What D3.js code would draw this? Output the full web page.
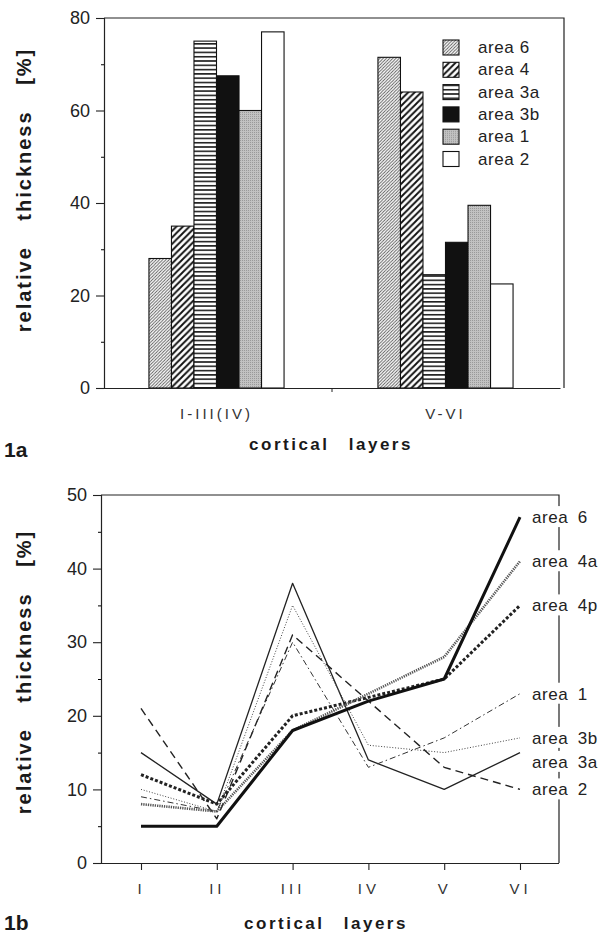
<!DOCTYPE html>
<html>
<head>
<meta charset="utf-8">
<script src="https://cdn.jsdelivr.net/npm/d3@7"></script>
<style>
  body { margin: 0; background: #fff; }
  svg { font-family: "Liberation Sans", Arial, Helvetica, sans-serif; }
</style>
</head>
<body>
<svg id="fig" width="603" height="933"></svg>
<script>
// ---- data: fig 1a (bars) ----
const groups = ["I-III(IV)", "V-VI"];
const barAreas = ["area 6", "area 4", "area 3a", "area 3b", "area 1", "area 2"];
const supra = [28, 35, 75, 67.5, 60, 77];      // layers I-III(IV)
const infra = [71.5, 64, 24.5, 31.5, 39.5, 22.5]; // layers V-VI
const barTicks = [0, 20, 40, 60, 80];

// ---- data: fig 1b (lines) ----
const layers = ["I", "II", "III", "IV", "V", "VI"];
const lineAreas = ["area 6", "area 4a", "area 4p", "area 1", "area 3b", "area 3a", "area 2"];
const area6 = [5, 5, 18, 22, 25, 47];
const area4a = [8, 7, 18, 23, 28, 41];
const area4p = [12, 8, 20, 22.5, 25, 35];
const area1 = [9, 7, 30, 13, 17, 23];
const area3b = [10, 7, 35, 16, 15, 17];
const area3a = [15, 8, 38, 14, 10, 15];
const area2 = [21, 6, 31, 22, 13, 10];
const lineTicks = [0, 10, 20, 30, 40, 50];

const svg = d3.select("#fig");
const defs = svg.append("defs");

// fill patterns for the bars
function diag(id, w, sw, col) {
  const p = defs.append("pattern").attr("id", id)
    .attr("patternUnits", "userSpaceOnUse").attr("width", w).attr("height", w);
  p.append("rect").attr("width", w).attr("height", w).attr("fill", "#fff");
  p.append("path")
    .attr("d", `M0,${w} L${w},0 M${-w / 2},${w / 2} L${w / 2},${-w / 2} M${w / 2},${w * 1.5} L${w * 1.5},${w / 2}`)
    .attr("stroke", col).attr("stroke-width", sw);
}
diag("p6", 3.2, 0.9, "#555");
diag("p4", 6.5, 1.9, "#111");
const ph = defs.append("pattern").attr("id", "p3a")
  .attr("patternUnits", "userSpaceOnUse").attr("width", 8).attr("height", 4.3);
ph.append("rect").attr("width", 8).attr("height", 4.3).attr("fill", "#fff");
ph.append("line").attr("x1", 0).attr("x2", 8).attr("y1", 0.8).attr("y2", 0.8)
  .attr("stroke", "#111").attr("stroke-width", 1.5);
const pd = defs.append("pattern").attr("id", "p1")
  .attr("patternUnits", "userSpaceOnUse").attr("width", 2).attr("height", 2);
pd.append("rect").attr("width", 2).attr("height", 2).attr("fill", "#c2c2c2");
pd.append("rect").attr("width", 1).attr("height", 1).attr("fill", "#9a9a9a");

const fills = ["url(#p6)", "url(#p4)", "url(#p3a)", "#111", "url(#p1)", "#fff"];

// ============ 1a ============
const a = { left: 104, right: 564, top: 18, bottom: 388 };

const x0 = d3.scaleBand().domain(groups).range([102, 560])
  .paddingInner(0.41).paddingOuter(0.205);
const x1 = d3.scaleBand().domain(barAreas).range([0, x0.bandwidth()]);
const yA = d3.scaleLinear().domain([0, 80]).range([a.bottom, a.top]);

const gA = svg.append("g");

// frame
gA.append("path")
  .attr("d", `M${a.left},${a.top} H${a.right} V${a.bottom}`)
  .attr("fill", "none").attr("stroke", "#222").attr("stroke-width", 1.2);

const barData = [];
groups.forEach((g, gi) => {
  const vals = gi === 0 ? supra : infra;
  barAreas.forEach((ar, i) => barData.push({ g, ar, v: vals[i], i }));
});

gA.selectAll("rect.bar")
  .data(barData)
  .join("rect")
  .attr("class", "bar")
  .attr("x", d => x0(d.g) + x1(d.ar))
  .attr("y", d => yA(d.v))
  .attr("width", x1.bandwidth())
  .attr("height", d => yA(0) - yA(d.v))
  .attr("fill", d => fills[d.i])
  .attr("stroke", "#111")
  .attr("stroke-width", 1.1);

// y axis
const yAxisA = gA.append("g")
  .attr("transform", `translate(${a.left},0)`)
  .call(d3.axisLeft(yA).tickValues(barTicks).tickSize(8).tickPadding(6));
gA.append("g")
  .attr("transform", `translate(${a.left},0)`)
  .call(d3.axisLeft(yA).tickValues([10, 30, 50, 70]).tickSize(3).tickFormat(""))
  .select(".domain").remove();

// x axis
const xAxisA = gA.append("g")
  .attr("transform", `translate(0,${a.bottom})`)
  .call(d3.axisBottom(x0).tickSize(0).tickPadding(20));
gA.append("line")
  .attr("x1", x0("V-VI") - x0.step() * x0.paddingInner() / 2 + 1)
  .attr("x2", x0("V-VI") - x0.step() * x0.paddingInner() / 2 + 1)
  .attr("y1", a.bottom).attr("y2", a.bottom + 4)
  .attr("stroke", "#222");

[yAxisA, xAxisA].forEach(ax => {
  ax.select(".domain").attr("stroke", "#222").attr("stroke-width", 1.2);
  ax.selectAll(".tick line").attr("stroke", "#222").attr("stroke-width", 1.1);
});
yAxisA.selectAll("text").attr("font-size", 18).attr("fill", "#222")
  .attr("font-family", "Liberation Sans, Arial, sans-serif");
xAxisA.selectAll("text").attr("font-size", 15).attr("fill", "#333")
  .attr("letter-spacing", 3)
  .attr("font-family", "Liberation Sans, Arial, sans-serif");

// legend
const leg = gA.append("g").attr("transform", "translate(443,40)");
const legRow = leg.selectAll("g").data(barAreas).join("g")
  .attr("transform", (d, i) => `translate(0,${i * 22.3})`);
legRow.append("rect")
  .attr("width", 16).attr("height", 15)
  .attr("fill", (d, i) => fills[i])
  .attr("stroke", "#111").attr("stroke-width", 1.1);
legRow.append("text")
  .attr("x", 35).attr("y", 13)
  .attr("font-size", 17).attr("letter-spacing", 0.6).attr("fill", "#222")
  .text(d => d);

// titles
gA.append("text")
  .attr("transform", "translate(24,190) rotate(-90)")
  .attr("dy", "0.35em")
  .attr("text-anchor", "middle")
  .attr("font-size", 20).attr("font-weight", "bold").attr("fill", "#1a1a1a")
  .attr("letter-spacing", 2).attr("word-spacing", 18)
  .text("relative thickness [%]");
gA.append("text")
  .attr("x", 331).attr("y", 450).attr("text-anchor", "middle")
  .attr("font-size", 17).attr("font-weight", "bold").attr("fill", "#1a1a1a")
  .attr("letter-spacing", 2.5).attr("word-spacing", 12)
  .text("cortical layers");
gA.append("text")
  .attr("x", 4).attr("y", 457)
  .attr("font-size", 21).attr("font-weight", "bold").attr("fill", "#1a1a1a")
  .text("1a");

// ============ 1b ============
const b = { left: 101, right: 559, top: 495, bottom: 863 };
const xB = d3.scalePoint().domain(layers).range([141, 520]);
const yB = d3.scaleLinear().domain([0, 50]).range([b.bottom, b.top]);

const gB = svg.append("g");

const series = [
  { name: "area 6", vals: area6, w: 3, dash: null, col: "#111" },
  { name: "area 4a", vals: area4a, w: 2.6, dash: "1.3,1", col: "#555" },
  { name: "area 4p", vals: area4p, w: 3, dash: "3,2", col: "#222" },
  { name: "area 1", vals: area1, w: 1, dash: "6,3,1.5,3", col: "#333" },
  { name: "area 3b", vals: area3b, w: 1, dash: "1,1.8", col: "#444" },
  { name: "area 3a", vals: area3a, w: 1.3, dash: null, col: "#222" },
  { name: "area 2", vals: area2, w: 1.4, dash: "8,5", col: "#222" }
];

// frame
gB.append("path")
  .attr("d", `M${b.left},${b.top} H${b.right} V${b.bottom}`)
  .attr("fill", "none").attr("stroke", "#222").attr("stroke-width", 1.2);

const line = d3.line()
  .x((d, i) => xB(layers[i]))
  .y(d => yB(d));

gB.selectAll("path.series")
  .data(series.slice().reverse())
  .join("path")
  .attr("class", "series")
  .attr("d", d => line(d.vals))
  .attr("fill", "none")
  .attr("stroke", d => d.col)
  .attr("stroke-width", d => d.w)
  .attr("stroke-dasharray", d => d.dash)
  .attr("stroke-linejoin", "round");

// y axis
const yAxisB = gB.append("g")
  .attr("transform", `translate(${b.left},0)`)
  .call(d3.axisLeft(yB).tickValues(lineTicks).tickSize(8).tickPadding(6));
gB.append("g")
  .attr("transform", `translate(${b.left},0)`)
  .call(d3.axisLeft(yB).tickValues([5, 15, 25, 35, 45]).tickSize(3).tickFormat(""))
  .select(".domain").remove();
// x axis
const xAxisB = gB.append("g")
  .attr("transform", `translate(0,${b.bottom})`)
  .call(d3.axisBottom(xB).tickSize(7).tickPadding(13).tickSizeOuter(0));
xAxisB.select(".domain").attr("d", `M${b.left},0.5H${b.right}`);

[yAxisB, xAxisB].forEach(ax => {
  ax.select(".domain").attr("stroke", "#222").attr("stroke-width", 1.2);
  ax.selectAll(".tick line").attr("stroke", "#222").attr("stroke-width", 1.1);
});
yAxisB.selectAll("text").attr("font-size", 18).attr("fill", "#222")
  .attr("font-family", "Liberation Sans, Arial, sans-serif");
xAxisB.selectAll("text").attr("font-size", 15).attr("fill", "#333")
  .attr("letter-spacing", 4)
  .attr("font-family", "Liberation Sans, Arial, sans-serif");

// end labels, pushed apart where they would collide
const labs = series.map(s => ({ name: s.name, y: yB(s.vals[s.vals.length - 1]) }))
  .sort((p, q) => p.y - q.y);
for (let i = 1; i < labs.length; i++) {
  if (labs[i].y - labs[i - 1].y < 24) labs[i].y = labs[i - 1].y + 24;
}
const lab = gB.selectAll("g.lab").data(labs).join("g")
  .attr("class", "lab")
  .attr("transform", d => `translate(532,${d.y})`);
lab.append("rect")
  .attr("x", -2).attr("y", -11).attr("width", 72).attr("height", 21)
  .attr("fill", "#fff");
lab.append("text")
  .attr("y", 6)
  .attr("font-size", 17).attr("fill", "#222")
  .attr("letter-spacing", 0.6).attr("word-spacing", 4)
  .text(d => d.name);

// titles
gB.append("text")
  .attr("transform", "translate(24,672) rotate(-90)")
  .attr("dy", "0.35em")
  .attr("text-anchor", "middle")
  .attr("font-size", 20).attr("font-weight", "bold").attr("fill", "#1a1a1a")
  .attr("letter-spacing", 2).attr("word-spacing", 18)
  .text("relative thickness [%]");
gB.append("text")
  .attr("x", 326).attr("y", 929).attr("text-anchor", "middle")
  .attr("font-size", 17).attr("font-weight", "bold").attr("fill", "#1a1a1a")
  .attr("letter-spacing", 2.5).attr("word-spacing", 12)
  .text("cortical layers");
gB.append("text")
  .attr("x", 4).attr("y", 930)
  .attr("font-size", 21).attr("font-weight", "bold").attr("fill", "#1a1a1a")
  .text("1b");
</script>
</body>
</html>
